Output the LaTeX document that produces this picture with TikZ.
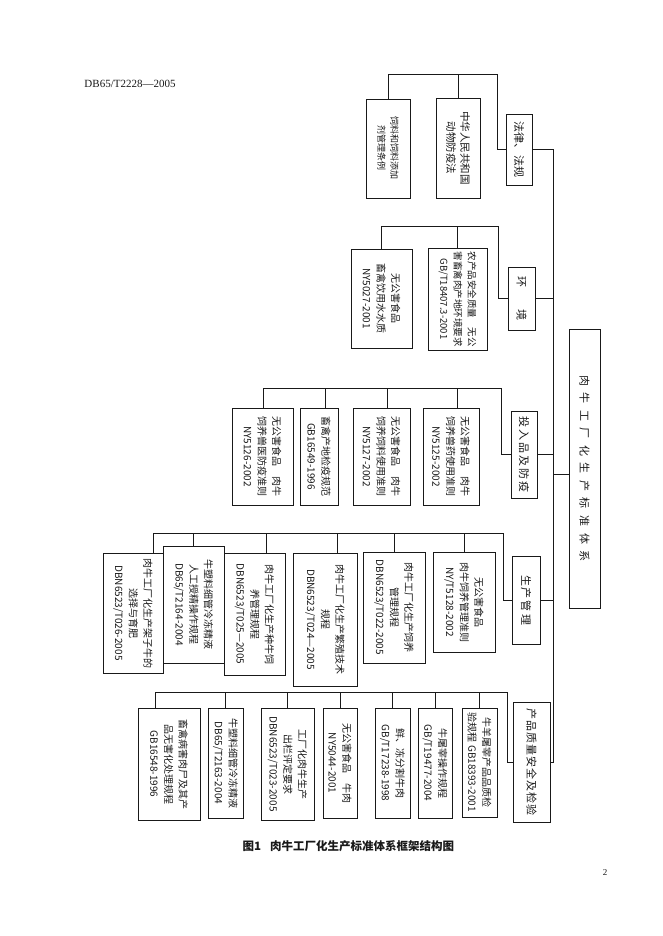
\documentclass[tikz,border=0pt]{standalone}
\usepackage{fontspec}
\setmainfont{Liberation Serif}
\newfontfamily\cjk{Noto Sans CJK SC}
\tikzset{
  box/.style={draw, rotate=-90, inner sep=1pt, align=center, font=\cjk\fontsize{10}{14.5}\selectfont},
  catbox/.style={box, font=\cjk\fontsize{11}{13}\selectfont},
}
\begin{document}
\begin{tikzpicture}[x=1pt, y=-1pt, line width=0.6pt, color=black!90]
\useasboundingbox[fill=white] (0,0) rectangle (662,936);
\node[font=\fontsize{11}{13}\selectfont] (head) at (130,84) {DB65/T2228—2005};
\node[catbox, minimum width=279, minimum height=31] (M) at (584.5,468.5) {肉\hspace{6.5pt}牛\hspace{6.5pt}工\hspace{6.5pt}厂\hspace{6.5pt}化\hspace{6.5pt}生\hspace{6.5pt}产\hspace{6.5pt}标\hspace{6.5pt}准\hspace{6.5pt}体\hspace{6.5pt}系};
\node[catbox, minimum width=71, minimum height=26] (L) at (519,149.5) {法律、\hspace{1pt}法规};
\node[box, font=\cjk\fontsize{9}{13}\selectfont, minimum width=99, minimum height=44] (L1) at (388,148.5) {饲料和饲料添加\\剂管理条例};
\node[box, font=\cjk\fontsize{10.5}{14}\selectfont, minimum width=100, minimum height=44] (L2) at (458,148) {中华人民共和国\\动物防疫法};
\node[catbox, minimum width=63, minimum height=27] (E) at (521.5,298.5) {环\hspace{22pt}境};
\node[box, minimum width=99, minimum height=61] (E1) at (381.5,298.5) {无公害食品\\畜禽饮用水水质\\NY5027-2001};
\node[box, font=\cjk\fontsize{9.5}{14}\selectfont, minimum width=102, minimum height=59] (E2) at (457.5,299) {农产品安全质量\quad 无公\\害畜禽肉产地环境要求\\GB/T18407.3-2001};
\node[catbox, minimum width=87, minimum height=26] (I) at (524,454.5) {投\hspace{2pt}入\hspace{2pt}品\hspace{2pt}及\hspace{2pt}防\hspace{2pt}疫};
\node[box, minimum width=97, minimum height=56] (I1) at (451,456.5) {无公害食品\quad 肉牛\\饲养兽药使用准则\\NY5125-2002};
\node[box, minimum width=97, minimum height=57] (I2) at (381.5,456.5) {无公害食品\quad 肉牛\\饲养饲料使用准则\\NY5127-2002};
\node[box, minimum width=97, minimum height=38] (I3) at (319,456.5) {畜禽产地检疫规范\\GB16549-1996};
\node[box, minimum width=97, minimum height=61] (I4) at (262.5,456.5) {无公害食品\quad 肉牛\\饲养兽医防疫准则\\NY5126-2002};
\node[catbox, minimum width=88, minimum height=28] (P) at (526,600) {生\hspace{2pt}产\hspace{2pt}管\hspace{2pt}理};
\node[box, minimum width=100, minimum height=62] (P1) at (464,602) {无公害食品\\肉牛饲养管理准则\\NY/T5128-2002};
\node[box, minimum width=111, minimum height=62] (P2) at (394,607.5) {肉牛工厂化生产饲养\\管理规程\\DBN6523/T022-2005};
\node[box, minimum width=133, minimum height=64] (P3) at (325,619.5) {肉牛工厂化生产繁殖技术\\规程\\DBN6523/T024—2005};
\node[box, minimum width=122, minimum height=61] (P4) at (254.5,614) {肉牛工厂化生产种牛饲\\养管理规程\\DBN6523/T025—2005};
\node[box, minimum width=117, minimum height=61] (P5) at (193.5,604.5) {牛塑料细管冷冻精液\\人工授精操作规程\\DB65/T2164-2004};
\node[box, minimum width=120, minimum height=60] (P6) at (133,613) {肉牛工厂化生产架子牛的\\选择与育肥\\DBN6523/T026-2005};
\node[catbox, minimum width=120, minimum height=37] (Q) at (531.5,762) {产\hspace{1pt}品\hspace{1pt}质\hspace{1pt}量\hspace{1pt}安\hspace{1pt}全\hspace{1pt}及\hspace{1pt}检\hspace{1pt}验};
\node[box, minimum width=109, minimum height=35] (Q1) at (479.5,762.5) {牛羊屠宰产品品质检\\验规程 GB18393-2001};
\node[box, minimum width=110, minimum height=34] (Q2) at (435,763) {牛屠宰操作规程\\GB/T19477-2004};
\node[box, minimum width=110, minimum height=35] (Q3) at (392.5,763) {鲜、冻分割牛肉\\GB/T17238-1998};
\node[box, minimum width=110, minimum height=34] (Q4) at (340,763) {无公害食品\quad 牛肉\\NY5044-2001};
\node[box, minimum width=112, minimum height=53] (Q5) at (287.5,764) {工厂化肉牛生产\\出栏评定要求\\DBN6523/T023-2005};
\node[box, minimum width=110, minimum height=35] (Q6) at (225.5,763) {牛塑料细管冷冻精液\\DB65/T2163-2004};
\node[box, minimum width=112, minimum height=62] (Q7) at (169,764) {畜禽病害肉尸及其产\\品无害化处理规程\\GB16548-1996};
\node[font=\cjk\bfseries\fontsize{11.5}{14}\selectfont, anchor=west] (cap) at (239,846) {图1\hspace{9pt}肉牛工厂化生产标准体系框架结构图};
\node[font=\fontsize{9}{11}\selectfont] (page) at (605,873) {2};
\coordinate (trunk) at (553,0);
\coordinate (m) at ([yshift=-6pt]M.south);
\draw (L.north) -| (trunk |- Q.north) -- (Q.north);
\foreach \n in {E,I,P} \draw (\n.north) -- (\n.north -| trunk);
\draw (m) -- (m -| trunk);
\coordinate (busL) at (497,74);
\coordinate (busE) at (498,226);
\coordinate (busI) at (501,388);
\coordinate (busP) at (503,533);
\coordinate (busQ) at (507,692);
\draw (L.south) -| (busL) -| (L1.west);
\draw (busL) -| (L2.west);
\draw (E.south) -| (busE) -| (E1.west);
\draw (busE) -| (E2.west);
\draw (I.south) -| (busI) -| ([xshift=1pt]I4.west);
\foreach \n in {I1,I2,I3} \draw (busI) -| ([xshift=6pt]\n.west);
\draw (P.south) -| (busP) -| ([xshift=20pt]P6.west);
\foreach \n in {P1,P2,P5} \draw (busP) -| (\n.west);
\foreach \n in {P3,P4} \draw (busP) -| ([xshift=12pt]\n.west);
\draw (Q.south) -| (busQ) -| ([xshift=-14pt]Q7.west);
\foreach \n in {Q1,Q2,Q3,Q4,Q5,Q6} \draw (busQ) -| (\n.west);
\end{tikzpicture}
\end{document}
